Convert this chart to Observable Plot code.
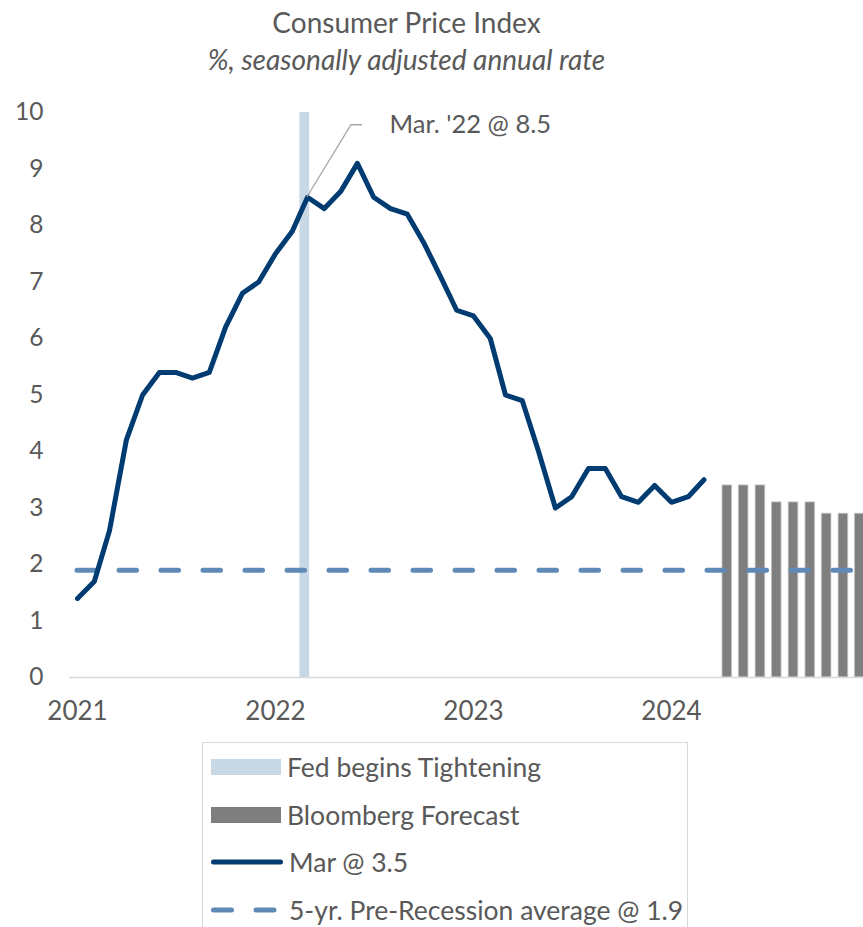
<!DOCTYPE html>
<html>
<head>
<meta charset="utf-8">
<script src="https://cdn.jsdelivr.net/npm/d3@7"></script>
<script src="https://cdn.jsdelivr.net/npm/@observablehq/plot@0.6"></script>
<style>
  html, body { margin: 0; padding: 0; background: #fff; }
  body { width: 863px; height: 927px; position: relative; overflow: hidden; font-family: Lato, "Open Sans", sans-serif; color: #595959; }
  .title { position: absolute; left: 0; width: 813px; text-align: center; white-space: nowrap; }
  #t1 { top: 8px; font-size: 28px; line-height: 28px; }
  #t2 { top: 45px; font-size: 28px; line-height: 28px; font-style: italic; }
  #chart { position: absolute; left: 0; top: 90px; }
  #legend { position: absolute; left: 202px; top: 742px; width: 486px; height: 185px; border: 1.5px solid #d9d9d9; border-bottom: none; box-sizing: border-box; }
  .row { position: absolute; left: 0; height: 30px; display: flex; align-items: center; font-size: 26.5px; white-space: nowrap; }
  .row svg { margin-left: 8px; margin-right: 6px; }
</style>
</head>
<body>
<div class="title" id="t1">Consumer Price Index</div>
<div class="title" id="t2">%, seasonally adjusted annual rate</div>
<div id="chart"></div>
<div id="legend"></div>
<script>
// ---- data ----
const cpiMonths = [
  "2021-01","2021-02","2021-03","2021-04","2021-05","2021-06","2021-07","2021-08","2021-09","2021-10","2021-11","2021-12",
  "2022-01","2022-02","2022-03","2022-04","2022-05","2022-06","2022-07","2022-08","2022-09","2022-10","2022-11","2022-12",
  "2023-01","2023-02","2023-03","2023-04","2023-05","2023-06","2023-07","2023-08","2023-09","2023-10","2023-11","2023-12",
  "2024-01","2024-02","2024-03"
];
const cpiValues = [
  1.4, 1.7, 2.6, 4.2, 5.0, 5.4, 5.4, 5.3, 5.4, 6.2, 6.8, 7.0,
  7.5, 7.9, 8.5, 8.3, 8.6, 9.1, 8.5, 8.3, 8.2, 7.7, 7.1, 6.5,
  6.4, 6.0, 5.0, 4.9, 4.0, 3.0, 3.2, 3.7, 3.7, 3.2, 3.1, 3.4,
  3.1, 3.2, 3.5
];
const forecastMonths = ["2024-04","2024-05","2024-06","2024-07","2024-08","2024-09","2024-10","2024-11","2024-12"];
const forecastValues = [3.4, 3.4, 3.4, 3.1, 3.1, 3.1, 2.9, 2.9, 2.9];
const preRecessionAvg = 1.9;
const fedTighteningMonth = "2022-03";
const fedBandTop = 10;
const annotationMonth = "2022-03";
const annotationValue = 8.5;
const annotationLabel = "Mar. '22 @ 8.5";
const xTickYears = ["2021","2022","2023","2024"];
const yTicks = [0,1,2,3,4,5,6,7,8,9,10];
const legendLabels = ["Fed begins Tightening", "Bloomberg Forecast", "Mar @ 3.5", "5-yr. Pre-Recession average @ 1.9"];

// ---- build tables ----
const parseM = d3.utcParse("%Y-%m");
const cpi = cpiMonths.map((m, i) => ({date: parseM(m), value: cpiValues[i]}));
const forecast = forecastMonths.map((m, i) => ({date: parseM(m), value: forecastValues[i]}));
const fedDate = parseM(fedTighteningMonth);
const annDate = parseM(annotationMonth);
const yearTicks = xTickYears.map(y => d3.utcParse("%Y")(y));

const NAVY = "#003b71", DASH = "#5f8ab8", GRAY = "#7f7f7f", BAND = "#c9d8e5", TXT = "#595959";

function leader(index, scales, values, dimensions, context) {
  const x0 = scales.x(annDate), y0 = scales.y(annotationValue);
  const p = document.createElementNS("http://www.w3.org/2000/svg", "path");
  p.setAttribute("d", `M${x0},${y0}L${x0 + 44},${y0 - 72}L${x0 + 55},${y0 - 72}`);
  p.setAttribute("fill", "none");
  p.setAttribute("stroke", "#a6a6a6");
  p.setAttribute("stroke-width", "1.3");
  const g = document.createElementNS("http://www.w3.org/2000/svg", "g");
  g.appendChild(p);
  return g;
}

const plot = Plot.plot({
  width: 863,
  height: 645,
  marginLeft: 77,
  marginRight: 0,
  marginTop: 22,
  marginBottom: 58,
  style: {fontFamily: "Lato, 'Open Sans', sans-serif", color: TXT, background: "transparent", overflow: "visible"},
  x: {type: "utc", domain: [parseM("2021-01"), d3.utcDay.offset(parseM("2024-12"), 19)], label: null},
  y: {domain: [0, 10], label: null},
  marks: [
    Plot.rectY([{date: fedDate, value: fedBandTop}], {
      x1: d => d3.utcDay.offset(d.date, -14), x2: d => d3.utcDay.offset(d.date, 4),
      y1: 0, y2: "value", fill: BAND
    }),
    Plot.rectY(forecast, {
      x1: d => d3.utcDay.offset(d.date, 3), x2: d => d3.utcDay.offset(d.date, 21),
      y1: 0, y2: "value", fill: GRAY, stroke: "#d0d0d0", strokeWidth: 0.8, clip: true
    }),
    Plot.ruleY([0], {stroke: "#d9d9d9", strokeWidth: 1.5, insetLeft: -8}),
    Plot.ruleY([preRecessionAvg], {stroke: DASH, strokeWidth: 5, strokeDasharray: "17.5,24.5", strokeLinecap: "round"}),
    Plot.line(cpi, {x: "date", y: "value", stroke: NAVY, strokeWidth: 5, strokeLinecap: "round", strokeLinejoin: "round"}),
    leader,
    Plot.text([{date: annDate, value: annotationValue, label: annotationLabel}], {
      x: "date", y: "value", text: "label", dx: 82, dy: -72, textAnchor: "start",
      fontSize: 25.5, fill: TXT
    }),
    Plot.axisY({ticks: yTicks, tickSize: 0, tickPadding: 34, fontSize: 24.5, fill: TXT, label: null}),
    Plot.axisX({ticks: yearTicks, tickFormat: d3.utcFormat("%Y"), tickSize: 0, tickPadding: 24, fontSize: 26, fill: TXT, label: null})
  ]
});
document.getElementById("chart").appendChild(plot);

// ---- legend ----
const swatches = [
  `<svg width="70" height="16"><rect x="0" y="0" width="70" height="16" fill="${BAND}"/></svg>`,
  `<svg width="70" height="16"><rect x="0" y="0" width="70" height="16" fill="${GRAY}"/></svg>`,
  `<svg width="72" height="16"><line x1="2.5" y1="8" x2="69.5" y2="8" stroke="${NAVY}" stroke-width="5" stroke-linecap="round"/></svg>`,
  `<svg width="72" height="16"><line x1="2.5" y1="8" x2="69.5" y2="8" stroke="${DASH}" stroke-width="5" stroke-linecap="round" stroke-dasharray="18,24.5"/></svg>`
];
const rowCenters = [766, 814, 861, 909];
const legend = document.getElementById("legend");
legendLabels.forEach((lab, i) => {
  const row = document.createElement("div");
  row.className = "row";
  row.style.top = (rowCenters[i] - 742 - 15) + "px";
  row.innerHTML = swatches[i] + `<span>${lab}</span>`;
  legend.appendChild(row);
});
</script>
</body>
</html>
